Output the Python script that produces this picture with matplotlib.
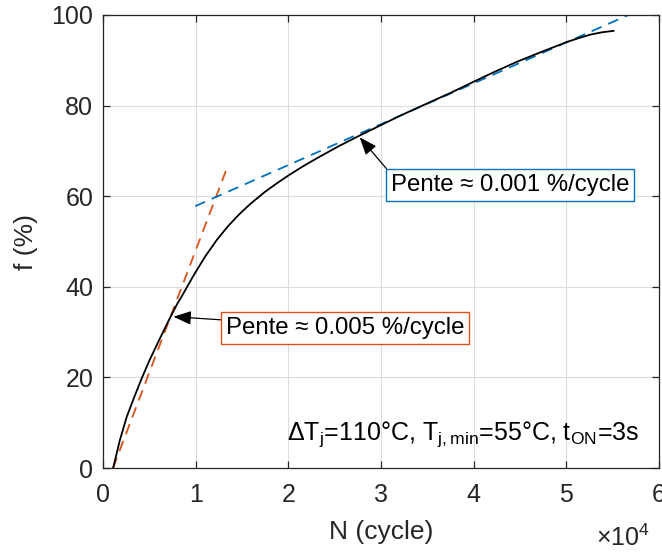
import matplotlib
matplotlib.use("Agg")
import matplotlib.pyplot as plt
from matplotlib.ticker import FuncFormatter, MultipleLocator

plt.rcParams['font.family'] = ['Liberation Sans', 'DejaVu Sans']
plt.rcParams['mathtext.default'] = 'regular'

# Measured degradation curve
N_cycles = [1100, 1800, 2560, 3400, 4180, 5000, 6000, 7000, 8000, 8500, 9300, 9950,
            11030, 12300, 13500, 14700, 15900, 17500, 18800, 20030, 21500, 23100, 25400,
            27800, 30000, 32100, 35000, 37500, 40030, 42300, 44700, 47500, 50130,
            51500, 52650, 53900, 55100]
f_pct = [0.0, 6.0, 11.3, 15.8, 19.8, 23.7, 28.0, 32.2, 36.2, 37.9, 40.8, 43.1,
         46.7, 50.4, 53.4, 56.0, 58.3, 61.0, 62.9, 64.6, 66.5, 68.4, 71.0,
         73.5, 75.7, 77.8, 80.5, 82.8, 85.3, 87.5, 89.7, 92.0, 94.1,
         95.0, 95.7, 96.2, 96.5]

# Tangent lines
slope1_N = [1080, 13300]
slope1_f = [0.0, 65.8]
slope2_N = [9950, 56700]
slope2_f = [57.8, 100.0]

label_slope1 = "Pente \u2248 0.005 %/cycle"
label_slope2 = "Pente \u2248 0.001 %/cycle"
cond_text = "\u0394T$_{j}$=110\u00b0C, T$_{j,min}$=55\u00b0C, t$_{ON}$=3s"

blue = '#0072BD'
orange = '#D95319'
axc = '#262626'

fig = plt.figure(figsize=(6.62, 5.52), dpi=100)
ax = fig.add_axes([103/662, 1-468/552, (659-103)/662, (468-15)/552])

ax.plot(slope1_N, slope1_f, '--', color=orange, lw=1.3, dashes=(6, 4))
ax.plot(slope2_N, slope2_f, '--', color=blue, lw=1.3, dashes=(6, 4))
ax.plot(N_cycles, f_pct, '-', color='black', lw=1.3)

ax.set_xlim(0, 60000)
ax.set_ylim(0, 100)
ax.xaxis.set_major_locator(MultipleLocator(10000))
ax.yaxis.set_major_locator(MultipleLocator(20))
ax.xaxis.set_major_formatter(FuncFormatter(lambda v, p: f"{v/1e4:g}"))
ax.grid(True, color='#DCDCDC', lw=0.8)
ax.set_axisbelow(True)
ax.tick_params(direction='in', length=5, width=0.9, colors=axc, labelsize=18,
               top=True, right=True, labelcolor=axc)
ax.tick_params(axis='x', pad=11)
ax.tick_params(axis='y', pad=7)
for s in ax.spines.values():
    s.set_color(axc)
    s.set_linewidth(0.9)

ax.set_xlabel("N (cycle)", fontsize=19, color=axc, labelpad=9)
ax.set_ylabel("f (%)", fontsize=19, color=axc, labelpad=10)
fig.text(596/662, 1-538/552, "\u00d710$^{4}$", fontsize=18, color=axc,
         ha='left', va='center')

ax.annotate(label_slope1, xy=(7600, 33.4), xytext=(226/662, 1-328/552),
            textcoords='figure fraction', fontsize=17.3, ha='left', va='center',
            bbox=dict(boxstyle='square,pad=0.2', fc='white', ec=orange, lw=1),
            arrowprops=dict(arrowstyle='-|>,head_length=0.9,head_width=0.35',
                            mutation_scale=12,
                            color='black', lw=0.9, shrinkA=0, shrinkB=0))
ax.annotate(label_slope2, xy=(27700, 73.0), xytext=(391/662, 1-185/552),
            textcoords='figure fraction', fontsize=17.3, ha='left', va='center',
            bbox=dict(boxstyle='square,pad=0.2', fc='white', ec=blue, lw=1),
            arrowprops=dict(arrowstyle='-|>,head_length=0.9,head_width=0.35',
                            mutation_scale=12,
                            color='black', lw=0.9, shrinkA=0, shrinkB=0,
                            relpos=(0, 1)))
ax.text(0.965, 0.075, cond_text, transform=ax.transAxes, fontsize=18,
        ha='right', va='center', color='black')

fig.savefig("out.png", dpi=100)
